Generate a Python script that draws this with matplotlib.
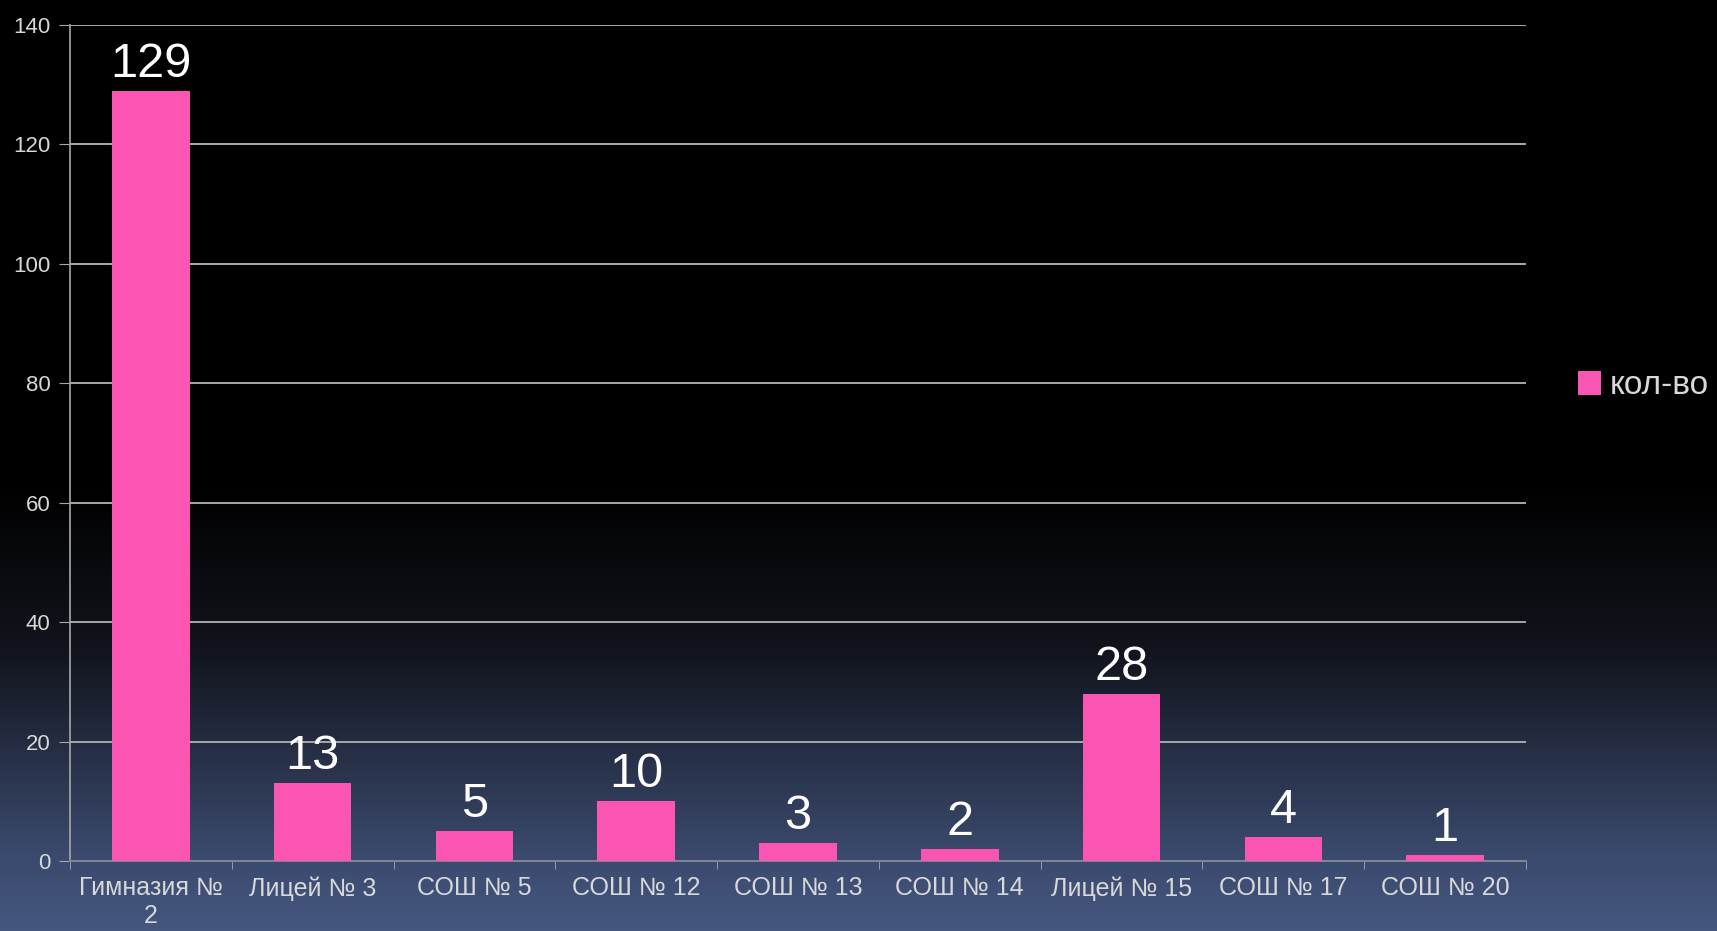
import numpy as np
import matplotlib
matplotlib.use('Agg')
import matplotlib.pyplot as plt
from matplotlib.ticker import FixedLocator

plt.rcParams['font.family'] = ['Liberation Sans', 'DejaVu Sans']

# данные
schools = ['Гимназия №\n2', 'Лицей № 3', 'СОШ № 5', 'СОШ № 12', 'СОШ № 13',
           'СОШ № 14', 'Лицей № 15', 'СОШ № 17', 'СОШ № 20']
counts = [129, 13, 5, 10, 3, 2, 28, 4, 1]
series_name = 'кол-во'
y_ticks = [0, 20, 40, 60, 80, 100, 120, 140]

bar_color = '#fb55b4'
text_color = '#d8d8d8'
grid_color = '#a8a8a8'

fig = plt.figure(figsize=(17.17, 9.31), dpi=100)

# фон: чёрный сверху, тёмно-синий снизу
bg = fig.add_axes([0, 0, 1, 1], zorder=-10)
t = np.linspace(0, 1, 400)
stops_t = [0.0, 0.52, 0.70, 0.92, 1.0]
stops_c = np.array([[0, 0, 0], [0, 0, 0], [0.07, 0.08, 0.115],
                    [0.23, 0.29, 0.43], [0.27, 0.34, 0.50]])
grad = np.stack([np.interp(t, stops_t, stops_c[:, k]) for k in range(3)], axis=1)
bg.imshow(grad[:, None, :], aspect='auto', extent=[0, 1, 0, 1])
bg.axis('off')

ax = fig.add_axes([70/1717, 70/931, (1526-70)/1717, (861-25)/931])
ax.set_facecolor('none')

x = np.arange(len(schools))
bars = ax.bar(x, counts, width=0.48, color=bar_color, zorder=3, label=series_name)

for xi, v in zip(x, counts):
    ax.annotate(str(v), (xi, v), xytext=(0, 3), textcoords='offset points',
                ha='center', va='bottom', fontsize=35, color='white')

ax.set_xlim(-0.5, len(schools) - 0.5)
ax.set_ylim(0, 140)
ax.set_yticks(y_ticks)
ax.yaxis.grid(True, color=grid_color, linewidth=1.4, zorder=0)
ax.set_axisbelow(True)

ax.set_xticks(x)
ax.set_xticklabels(schools, fontsize=18, color=text_color, linespacing=1.2)
ax.xaxis.set_minor_locator(FixedLocator(np.arange(len(schools) + 1) - 0.5))
ax.tick_params(axis='x', which='major', length=0, pad=11)
ax.tick_params(axis='x', which='minor', length=6, color=grid_color, direction='out')
ax.tick_params(axis='y', length=8, color=grid_color, labelsize=16,
               labelcolor=text_color, pad=6)

for s in ['top', 'right']:
    ax.spines[s].set_visible(False)
ax.spines['left'].set_color(grid_color)
ax.spines['bottom'].set_color('#7f8590')
ax.spines['left'].set_linewidth(1.2)
ax.spines['bottom'].set_linewidth(1.4)

fig.legend(handles=[bars], labels=[series_name], loc='center left',
           bbox_to_anchor=(1578/1717, 1 - 386/931), frameon=False,
           handlelength=0.7, handleheight=0.7, handletextpad=0.25,
           borderpad=0, borderaxespad=0, fontsize=24, labelcolor=text_color)

fig.savefig('out.png', dpi=100)
